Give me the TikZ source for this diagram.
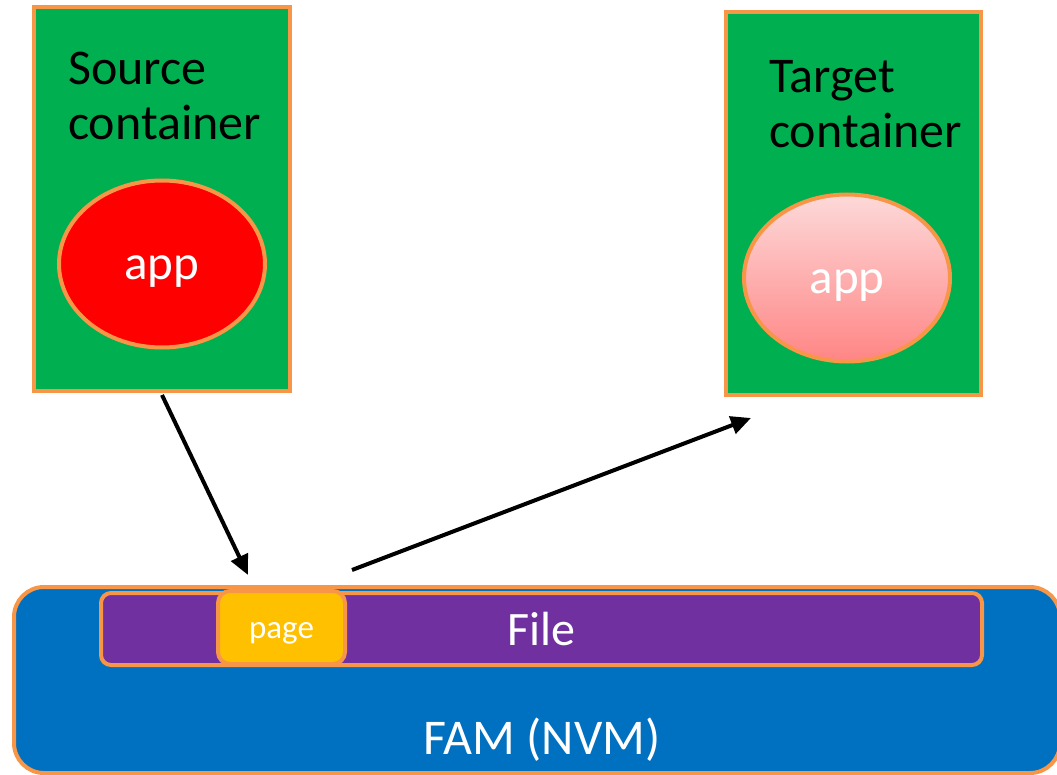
\documentclass[tikz,border=0pt]{standalone}
\usepackage{fontspec}
\setmainfont{Carlito}
\usetikzlibrary{shapes.geometric,arrows.meta}

\definecolor{boxgreen}{HTML}{00B050}
\definecolor{rim}{HTML}{F79646}
\definecolor{famblue}{HTML}{0070C0}
\definecolor{filepurple}{HTML}{7030A0}
\definecolor{pagegold}{HTML}{FFC000}
\definecolor{apptop}{HTML}{FDD9D9}
\definecolor{appbot}{HTML}{FF8585}

\tikzset{
  container/.style={draw=rim, line width=4pt, fill=boxgreen, rectangle, inner sep=0pt},
  label/.style={align=left, anchor=base west, font=\fontsize{50}{55}\selectfont, text=black, inner sep=0pt},
  appnode/.style={ellipse, draw=rim, line width=4pt, inner sep=0pt,
    minimum width=206pt, minimum height=167pt, text=white,
    font=\fontsize{49}{55}\selectfont},
  applabel/.style={text=white, font=\fontsize{49}{55}\selectfont, anchor=base},
  mover/.style={line width=4pt, -{Triangle[length=20pt,width=18pt]}},
}

\begin{document}
\begin{tikzpicture}[x=1pt,y=-1pt]
  \useasboundingbox (0,0) rectangle (1057,775);

  % containers
  \node[container, minimum width=256pt, minimum height=384pt] (src) at (162,199) {};
  \node[container, minimum width=255pt, minimum height=383pt] (tgt) at (853.5,203.5) {};

  \node[label] (srclabel) at (68,140) {Source\\container};
  \node[label] (tgtlabel) at (769,148) {Target\\container};

  \node[appnode, fill=red] (srcapp) at (162,264) {};
  \node[applabel] at (162,280) {app};
  \node[appnode, top color=apptop, bottom color=appbot] (tgtapp) at (847,278) {};
  \node[applabel] at (847,294) {app};

  % fabric-attached memory
  \node[draw=rim, line width=4pt, fill=famblue, rounded corners=30pt, inner sep=0pt,
        minimum width=1046pt, minimum height=186pt] (fam) at (537,680) {};
  \node[text=white, font=\fontsize{50}{55}\selectfont, anchor=base] (famlabel) at (542,754) {FAM (NVM)};

  \node[draw=rim, line width=4pt, fill=filepurple, rounded corners=10pt, inner sep=0pt,
        minimum width=881pt, minimum height=72pt] (file) at (541.5,629) {};
  \node[text=white, font=\fontsize{48}{54}\selectfont, anchor=base] (filelabel) at (541,645) {File};

  \node[draw=rim, line width=4pt, fill=pagegold, rounded corners=12pt, inner sep=0pt,
        minimum width=127pt, minimum height=73pt] (page) at (281.5,627.5) {};
  \node[text=white, font=\fontsize{33}{38}\selectfont, anchor=base] (pagelabel) at (281.5,638) {page};

  % migration path
  \coordinate (intoPage) at (248,575);
  \coordinate (fromPage) at (352,570);
  \coordinate (towardTgt) at (751,418);
  \draw[mover] (src.south -| 162,0) ++(0,2) -- (intoPage);
  \draw[mover] (fromPage) -- (towardTgt);
\end{tikzpicture}
\end{document}
